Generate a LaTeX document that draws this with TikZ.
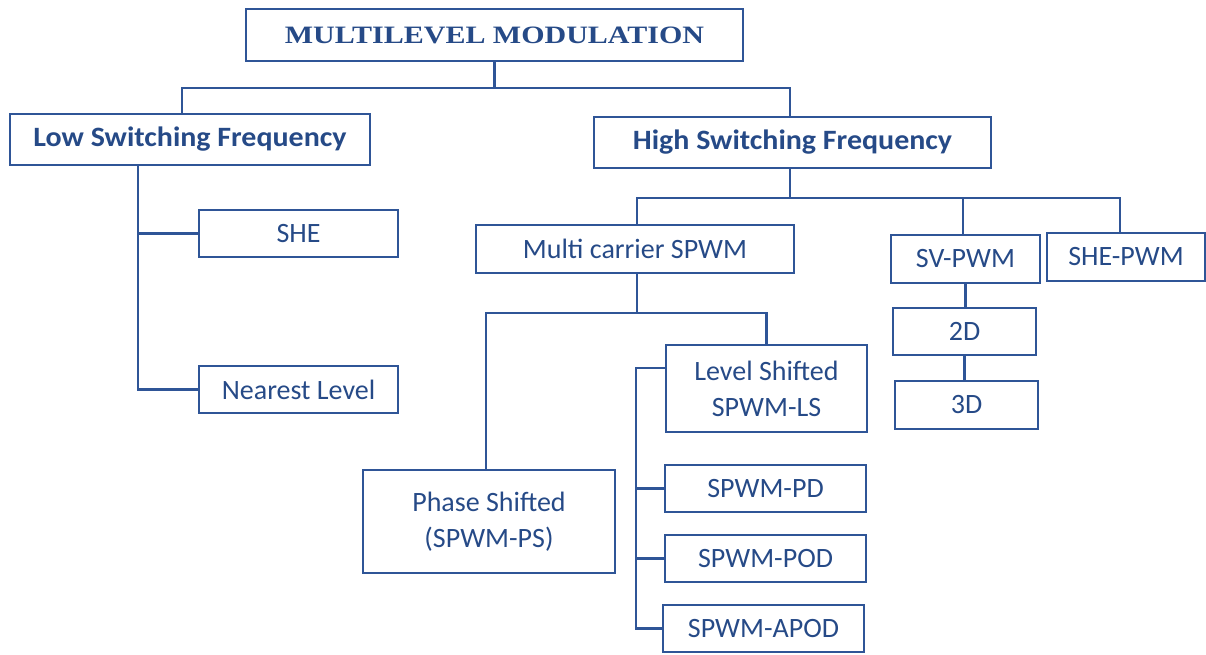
\documentclass[tikz,border=0pt]{standalone}
\usepackage{fontspec}
\setmainfont{Carlito}
\newfontfamily\titlefont{Liberation Serif}[FakeStretch=1.2]
\newfontfamily\boldfont{Carlito}[FakeStretch=1.07]
\definecolor{dblue}{RGB}{47,85,151}
\definecolor{tblue}{RGB}{38,74,135}
\begin{document}
\begin{tikzpicture}[x=1pt,y=-1pt,
  box/.style={draw=dblue,line width=2.2pt,inner sep=0pt,text=tblue,align=center,
    font=\fontsize{28}{36}\selectfont},
  conn/.style={draw=dblue,line width=2.2pt},
  bbox/.style={box,font=\boldfont\bfseries\fontsize{28}{36}\selectfont}]
\useasboundingbox (0,0) rectangle (1206,654);
% nodes
\node[box,minimum width=497pt,minimum height=52pt,font=\titlefont\bfseries\fontsize{25}{30}\selectfont] (title) at (494.5,35) {MULTILEVEL MODULATION};
\node[bbox,minimum width=360pt,minimum height=51pt] (low) at (190,139.5) {Low Switching Frequency};
\node[bbox,minimum width=397pt,minimum height=51pt] (high) at (792.5,142.5) {High Switching Frequency};
\node[box,minimum width=199pt,minimum height=47pt] (she) at (298.5,233.5) {SHE};
\node[box,minimum width=199pt,minimum height=47pt] (nl) at (298.5,389.5) {Nearest Level};
\node[box,minimum width=318pt,minimum height=48pt] (mc) at (635,249) {Multi carrier SPWM};
\node[box,minimum width=149pt,minimum height=48pt] (sv) at (965.5,259) {SV-PWM};
\node[box,minimum width=158pt,minimum height=48pt] (shepwm) at (1126,257) {SHE-PWM};
\node[box,minimum width=143pt,minimum height=47pt] (d2) at (964.5,331.5) {2D};
\node[box,minimum width=143pt,minimum height=48pt] (d3) at (966.5,405) {3D};
\node[box,minimum width=201pt,minimum height=87pt] (ls) at (766.5,388.5) {Level Shifted\\SPWM-LS};
\node[box,minimum width=252pt,minimum height=103pt] (ps) at (489,521.5) {Phase Shifted\\(SPWM-PS)};
\node[box,minimum width=201pt,minimum height=47pt] (pd) at (765.5,488.5) {SPWM-PD};
\node[box,minimum width=201pt,minimum height=47pt] (pod) at (765.5,558.5) {SPWM-POD};
\node[box,minimum width=201pt,minimum height=47pt] (apod) at (763.5,628.5) {SPWM-APOD};
% connectors
\coordinate (b1) at (494.5,88);
\draw[conn] (title.south) -- (b1);
\draw[conn] ([xshift=-8pt]low.north) |- (b1) -| ([xshift=-2.5pt]high.north);
\draw[conn] ([xshift=-52pt]low.south) |- (she.west);
\draw[conn] ([xshift=-52pt]low.south) |- (nl.west);
\coordinate (b2) at (790,198);
\draw[conn] ([xshift=-2.5pt]high.south) -- (b2);
\draw[conn] ([xshift=2pt]mc.north) |- (b2) -| ([xshift=-6pt]shepwm.north);
\draw[conn] ([xshift=-2.5pt]sv.north |- b2) -- ([xshift=-2.5pt]sv.north);
\draw[conn] (sv.south) -- (sv.south |- d2.north);
\draw[conn] (d2.south) -- (d2.south |- d3.north);
\coordinate (b3) at (637,313);
\draw[conn] ([xshift=2pt]mc.south) -- (b3);
\draw[conn] ([xshift=-3pt]ps.north) |- (b3) -| (ls.north);
\coordinate (v) at (636,368);
\draw[conn] ([yshift=20.5pt]ls.west) -- (v) |- (apod.west);
\draw[conn] (v |- pd.west) -- (pd.west);
\draw[conn] (v |- pod.west) -- (pod.west);
\end{tikzpicture}
\end{document}
